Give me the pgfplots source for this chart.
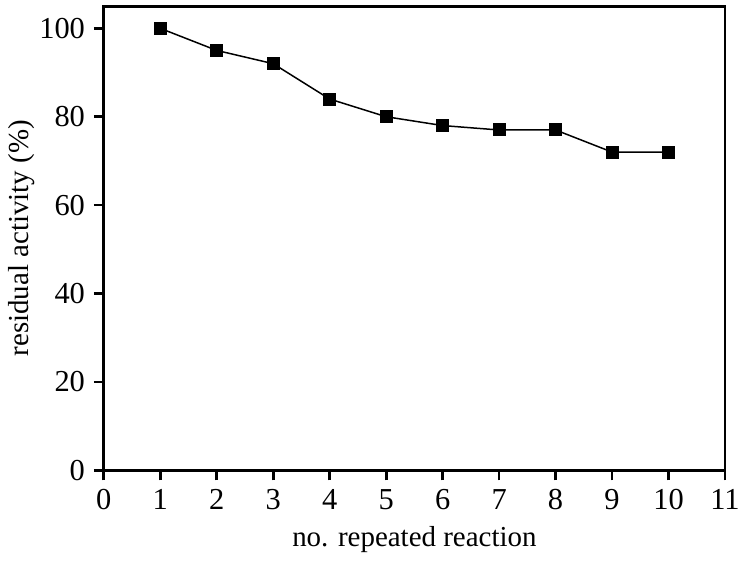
\documentclass[border=0pt]{standalone}
\usepackage{fontspec}
\setmainfont{Liberation Serif}
\usepackage{pgfplots}
\pgfplotsset{compat=1.18}
\begin{document}
\begin{tikzpicture}
\begin{axis}[
  scale only axis, width=249pt, height=186pt,
  xmin=0, xmax=11, ymin=0, ymax=105,
  xtick={0,1,...,11}, ytick={0,20,...,100},
  tick align=outside, tick pos=left, major tick length=4pt,
  axis line style={line width=1.1pt}, every tick/.style={line width=1.1pt, black},
  /pgf/number format/assume math mode=true,
  tick label style={font=\fontsize{12.2}{14}\selectfont},
  label style={font=\fontsize{11.6}{14}\selectfont},
  xlabel={no. repeated reaction}, ylabel={residual activity (\%)},
  xlabel style={yshift=0pt}, ylabel style={yshift=-5pt},
]
\addplot[black, line width=0.6pt, mark=square*, mark size=2.3pt] coordinates {
  (1,100) (2,95) (3,92) (4,84) (5,80) (6,78) (7,77) (8,77) (9,72) (10,72)};
\end{axis}
\path ([yshift=2.5pt]current axis.north);
\end{tikzpicture}
\end{document}
